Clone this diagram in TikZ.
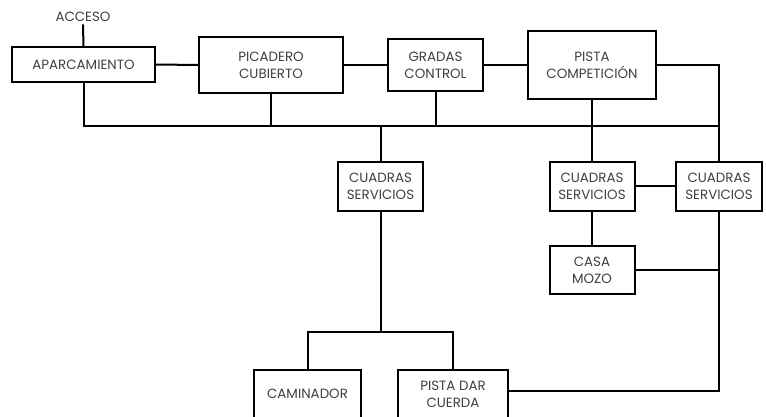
\documentclass[tikz,border=0pt]{standalone}
\usepackage{fontspec}
\setmainfont{Poppins}
\begin{document}
\begin{tikzpicture}[x=1pt,y=-1pt,
  blk/.style={draw=black,line width=2pt,fill=white,align=center,inner sep=0pt,
    text=black!75,font=\fontsize{13.4}{17}\selectfont},
  wire/.style={line width=2pt,line cap=rect}]
\useasboundingbox (0,0) rectangle (766,417);

% upper row
\node[text=black!75,font=\fontsize{13.4}{14}\selectfont] (acc) at (83,17) {ACCESO};
\node[blk,minimum width=143,minimum height=35] (apar) at (83.5,64.5) {APARCAMIENTO};
\node[blk,minimum width=144,minimum height=56] (pica) at (271,65) {PICADERO\\CUBIERTO};
\node[blk,minimum width=95,minimum height=52] (grad) at (435.5,65) {GRADAS\\CONTROL};
\node[blk,minimum width=128,minimum height=68] (pist) at (592,65) {PISTA\\COMPETICIÓN};

% stables
\node[blk,minimum width=85,minimum height=49] (cs1) at (380.5,186.5) {CUADRAS\\SERVICIOS};
\node[blk,minimum width=85,minimum height=49] (cs2) at (592,186.5) {CUADRAS\\SERVICIOS};
\node[blk,minimum width=86,minimum height=49] (cs3) at (719,186.5) {CUADRAS\\SERVICIOS};
\node[blk,minimum width=85,minimum height=48] (casa) at (592,270) {CASA\\MOZO};

% bottom row (boxes run past the lower edge)
\node[blk,minimum width=107,minimum height=48] (cami) at (307.5,394) {CAMINADOR};
\node[blk,minimum width=110,minimum height=48] (pdc) at (453,394) {PISTA DAR\\CUERDA};

\coordinate (busR) at (719,126);
\coordinate (split) at (380.5,332);

% connectors
\draw[wire] (acc.south) -- (apar.north);
\draw[wire] (apar.east) -- (pica.west);
\draw[wire] (pica.east) -- (grad.west);
\draw[wire] (grad.east) -- (pist.west);
\draw[wire] (pist.east) -| (cs3.north);
\draw[wire] (apar.south) |- (busR);
\draw[wire] (pica.south) -- (pica.south |- busR);
\draw[wire] (grad.south) -- (grad.south |- busR);
\draw[wire] (cs1.north) -- (cs1.north |- busR);
\draw[wire] (pist.south) -- (cs2.north);
\draw[wire] (cs2.east) -- (cs3.west);
\draw[wire] (cs2.south) -- (casa.north);
\draw[wire] (casa.east) -- (casa.east -| cs3.south);
\draw[wire] (cs3.south) |- ([yshift=3pt]pdc.east);
\draw[wire] (cs1.south) -- (split);
\draw[wire] (cami.north) |- (split) -| (pdc.north);
\end{tikzpicture}
\end{document}
